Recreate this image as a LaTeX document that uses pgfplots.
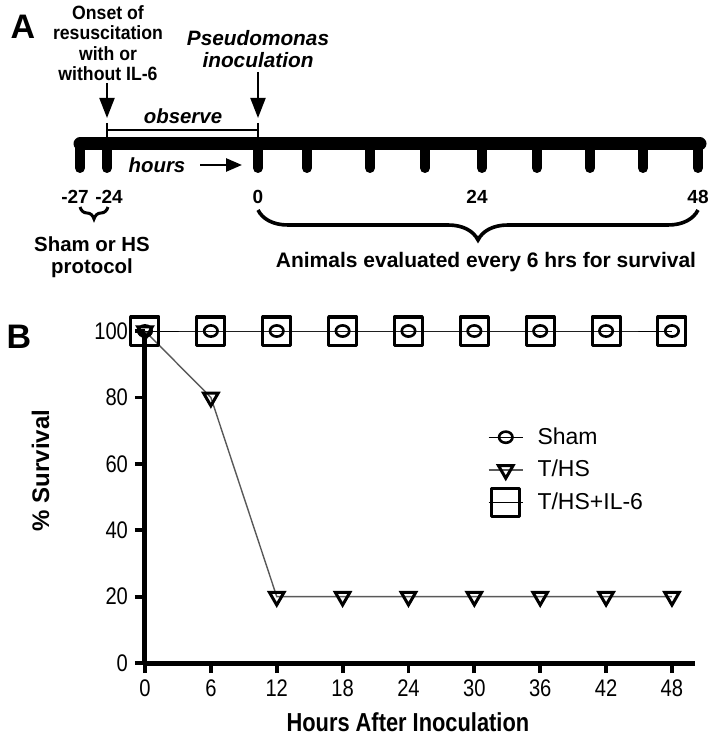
\documentclass[border=0pt]{standalone}
\usepackage{fontspec}
\setmainfont{Liberation Sans}
\newfontfamily\narrowfont[FakeStretch=0.84]{Liberation Sans}
\newfontfamily\semifont[FakeStretch=0.92]{Liberation Sans}
\usepackage{pgfplots}
\pgfplotsset{compat=1.18}
\usetikzlibrary{arrows.meta,decorations.pathreplacing}
\begin{document}
\begin{tikzpicture}
\useasboundingbox (0,0) rectangle (356.5pt,375pt);
% ---------------- Panel A (schematic) ----------------
\begin{scope}[x=0.5pt,y=-0.5pt,yshift=375pt]
\node[font=\bfseries\fontsize{17}{19}\selectfont] at (23,27) {A};
\node[font=\semifont\bfseries\fontsize{9.6}{10.2}\selectfont, align=center] at (108,43) {Onset of\\resuscitation\\with or\\without IL-6};
\node[font=\bfseries\itshape\fontsize{10.4}{11}\selectfont, align=center] at (258,49) {Pseudomonas\\inoculation};
\draw[line width=1pt,-{Triangle[width=7.5pt,length=10pt]}] (107,83) -- (107,118);
\draw[line width=1pt,-{Triangle[width=7.5pt,length=10pt]}] (258,72) -- (258,118);
\draw[line width=0.8pt] (107,130) -- (258,130);
\draw[line width=0.8pt] (107,123) -- (107,137);
\draw[line width=0.8pt] (258,123) -- (258,137);
\node[font=\bfseries\itshape\fontsize{10.2}{12}\selectfont] at (183,116) {observe};
\draw[line width=6.5pt, line cap=round] (80,144) -- (700,144);
\foreach \x in {80,107,258,307,370,425,482,537,590,643,698}
  \draw[line width=5pt, line cap=round] (\x,144) -- (\x,168);
\node[font=\bfseries\itshape\fontsize{10.2}{12}\selectfont] at (157,165) {hours};
\draw[line width=1.3pt,-{Triangle[width=6.5pt,length=8pt]}] (200,165) -- (242,165);
\node[font=\bfseries\fontsize{9.5}{11}\selectfont] at (75,197) {-27};
\node[font=\bfseries\fontsize{9.5}{11}\selectfont] at (109,197) {-24};
\node[font=\bfseries\fontsize{9.5}{11}\selectfont] at (258,197) {0};
\node[font=\bfseries\fontsize{9.5}{11}\selectfont] at (477,197) {24};
\node[font=\bfseries\fontsize{9.5}{11}\selectfont] at (698,197) {48};
\draw[line width=1.5pt, decorate, decoration={brace, mirror, amplitude=6pt}] (80,207) -- (108,207);
\draw[line width=1.8pt, decorate, decoration={brace, mirror, amplitude=15pt}] (258,210) -- (698,210);
\node[font=\bfseries\fontsize{10.2}{11}\selectfont, align=center] at (92,257) {Sham or HS\\protocol};
\node[font=\bfseries\fontsize{10.5}{12}\selectfont] at (486,262) {Animals evaluated every 6 hrs for survival};
\node[font=\bfseries\fontsize{17}{19}\selectfont] at (19,337) {B};
\end{scope}
% ---------------- Panel B (survival) ----------------
\begin{axis}[
  at={(72.5pt,43.5pt)}, anchor=south west,
  scale only axis, width=275pt, height=166pt,
  xmin=0, xmax=50.1, ymin=0, ymax=100,
  axis lines=left, axis line style={-, line width=2.5pt},
  xtick={0,6,...,48}, ytick={0,20,...,100},
  tick align=outside, major tick length=5pt,
  major tick style={black, line width=1.9pt},
  tick label style={font=\narrowfont\fontsize{12}{14}\selectfont},
  /pgf/number format/assume math mode=true,
  xlabel={Hours After Inoculation}, ylabel={\% Survival},
  xlabel style={font=\narrowfont\bfseries\fontsize{13}{15}\selectfont, at={(axis description cs:0.478,-0.178)}, anchor=center},
  ylabel style={font=\bfseries\fontsize{12}{14}\selectfont, at={(axis description cs:-0.19,0.58)}, anchor=center},
  clip=false,
  legend cell align=left,
  legend style={draw=none, fill=none, at={(0.612,0.735)}, anchor=north west,
    font=\fontsize{11.5}{13}\selectfont, row sep=2.5pt},
]
\addplot[black, line width=0.5pt, mark=o, mark size=2.8pt, mark options={line width=1.3pt, xscale=1.2}]
  coordinates {(0,100)(6,100)(12,100)(18,100)(24,100)(30,100)(36,100)(42,100)(48,100)};
\addlegendentry{\hspace{5pt}Sham}
\addplot[black!65, line width=0.7pt, mark=triangle, mark size=4.2pt, mark options={black, line width=1.5pt, rotate=180}]
  coordinates {(0,100)(6,80)(12,20)(18,20)(24,20)(30,20)(36,20)(42,20)(48,20)};
\addlegendentry{\hspace{5pt}T/HS}
\addplot[black, line width=0.5pt, mark=square, mark size=7pt, mark options={line width=1.5pt, line join=round}]
  coordinates {(0,100)(6,100)(12,100)(18,100)(24,100)(30,100)(36,100)(42,100)(48,100)};
\addlegendentry{\hspace{5pt}T/HS+IL-6}
\end{axis}
\end{tikzpicture}
\end{document}
